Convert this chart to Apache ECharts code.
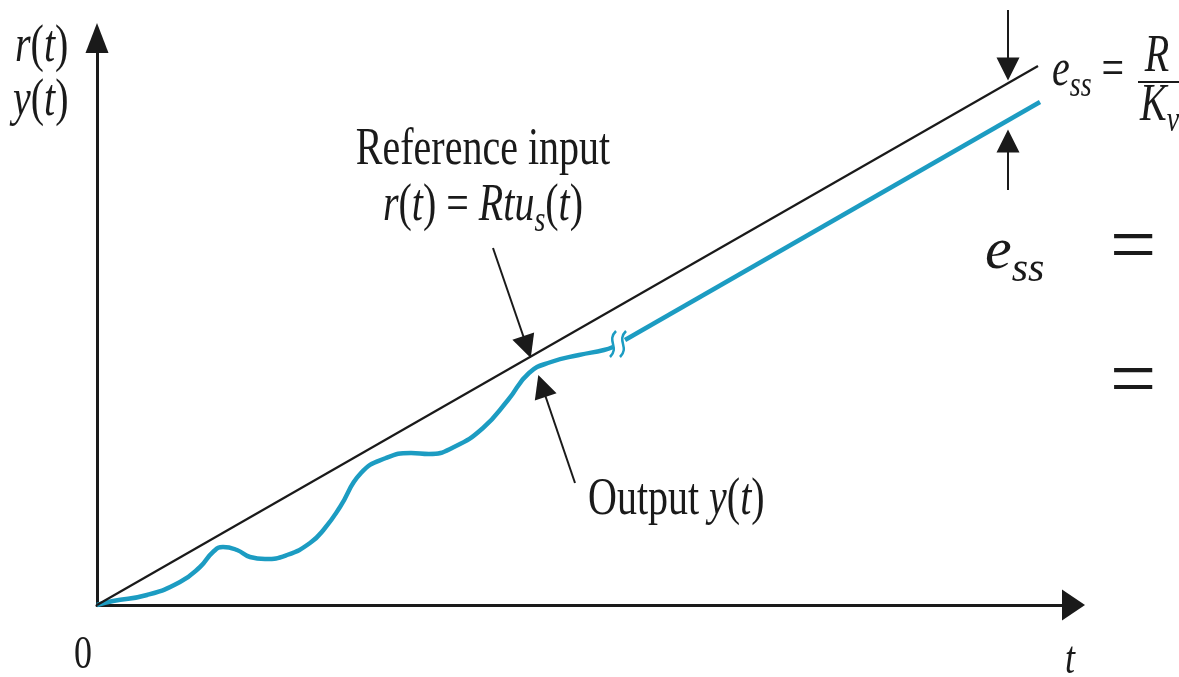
<!DOCTYPE html>
<html>
<head>
<meta charset="utf-8">
<title>Steady-state error to a ramp input</title>
<script src="https://cdn.jsdelivr.net/npm/echarts@6/dist/echarts.min.js"></script>
<style>
  html, body { margin: 0; padding: 0; background: #fff; }
  #chart { width: 1179px; height: 677px; }
</style>
</head>
<body>
<div id="chart"></div>
<script>
// reference input r(t) = R t (start and end of the drawn segment)
const refInput = [[0, 0], [941, 539]];
// output y(t), transient part up to the axis break
const outputTransient = [
  [0, 0], [16, 4], [50, 10], [83, 23], [103, 38], [116, 53], [126, 58],
  [140, 55], [153, 48], [168, 46], [190, 50], [213, 62], [228, 77],
  [243, 98], [264, 132], [289, 147], [314, 152], [332, 151], [357, 158],
  [386, 177], [411, 205], [432, 232], [454, 243], [482, 250], [507, 255],
  [516, 258]
];
// output y(t), steady-state part after the break
const outputSteady = [[528, 265], [943, 503]];
// where the break mark sits on the output curve
const breakPoint = [[521, 261]];
// pointer arrows: [from, to]
const pointerArrows = [
  [[911, 595], [911, 536]],   // e_ss, from above
  [[911, 415], [911, 464]],   // e_ss, from below
  [[396, 357], [430, 258]],   // reference input
  [[478, 122], [445, 219]]    // output y(t)
];

const serif = 'Liberation Serif';
const ink = '#1a1a1a';
const blue = '#1c9cc2';
const stretch = 1.3; // the scanned figure is stretched vertically

const myChart = echarts.init(document.getElementById('chart'));

const rich = (size) => {
  const sub = Math.round(size * 0.7);
  return {
    i: { fontStyle: 'italic', fontSize: size, fontFamily: serif, lineHeight: size },
    s: {
      fontStyle: 'italic',
      fontSize: sub,
      fontFamily: serif,
      lineHeight: Math.round(size * 0.35),
      padding: [Math.round(size * 0.6), 0, 0, 0] // push the subscript down
    }
  };
};

function label(x, y, text, size, align, scaleY) {
  return {
    type: 'text',
    x: x,
    y: y,
    scaleY: scaleY == null ? stretch : scaleY,
    silent: true,
    style: {
      text: text,
      fontSize: size,
      fontFamily: serif,
      fill: ink,
      lineHeight: size,
      textAlign: align || 'left',
      textVerticalAlign: 'middle',
      rich: rich(size)
    }
  };
}

const option = {
  animation: false,
  backgroundColor: '#fff',
  grid: { left: 97, right: 105.5, top: 38, bottom: 72 },
  xAxis: {
    type: 'value',
    min: 0,
    max: 976.5,
    axisLine: {
      show: true,
      symbol: ['none', 'triangle'],
      symbolSize: [31, 23],
      lineStyle: { color: ink, width: 3 }
    },
    axisTick: { show: false },
    axisLabel: { show: false },
    splitLine: { show: false }
  },
  yAxis: {
    type: 'value',
    min: 0,
    max: 567,
    axisLine: {
      show: true,
      symbol: ['none', 'triangle'],
      symbolSize: [23, 30],
      lineStyle: { color: ink, width: 3 }
    },
    axisTick: { show: false },
    axisLabel: { show: false },
    splitLine: { show: false }
  },
  series: [
    {
      name: 'r(t)',
      type: 'line',
      data: refInput,
      showSymbol: false,
      clip: false,
      lineStyle: { color: ink, width: 2.2 },
      z: 3
    },
    {
      name: 'y(t) transient',
      type: 'line',
      data: outputTransient,
      smooth: 0.5,
      showSymbol: false,
      clip: false,
      lineStyle: { color: blue, width: 4.5 },
      z: 2
    },
    {
      name: 'y(t) steady',
      type: 'line',
      data: outputSteady,
      showSymbol: false,
      clip: false,
      lineStyle: { color: blue, width: 4.5 },
      z: 2
    },
    {
      // break mark on the output curve
      type: 'custom',
      data: breakPoint,
      clip: false,
      silent: true,
      z: 4,
      renderItem: function (params, api) {
        const p = api.coord([api.value(0), api.value(1)]);
        const mark = (dx) => ({
          type: 'bezierCurve',
          shape: {
            x1: p[0] + dx + 3, y1: p[1] - 13,
            x2: p[0] + dx - 3, y2: p[1] + 13,
            cpx1: p[0] + dx - 7, cpy1: p[1] - 3,
            cpx2: p[0] + dx + 7, cpy2: p[1] + 3
          },
          style: { stroke: blue, lineWidth: 2.5, fill: null }
        });
        return { type: 'group', children: [mark(-5), mark(5)] };
      }
    },
    {
      type: 'lines',
      coordinateSystem: 'cartesian2d',
      clip: false,
      silent: true,
      symbol: ['none', 'triangle'],
      symbolSize: 23,
      lineStyle: { color: ink, width: 2, opacity: 1, curveness: 0 },
      itemStyle: { color: ink },
      data: pointerArrows.map((a) => ({ coords: a })),
      z: 5
    }
  ],
  graphic: [
    label(15, 47, '{i|r}({i|t})', 40),
    label(13, 101, '{i|y}({i|t})', 40),
    label(483, 150, 'Reference input', 40, 'center'),
    label(483, 206, '{i|r}({i|t}) = {i|Rtu}{s|s}({i|t})', 40, 'center'),
    label(588, 500, 'Output {i|y}({i|t})', 40),
    label(83, 656, '0', 36, 'center'),
    label(1070, 661, '{i|t}', 36, 'center'),
    // e_ss = R / K_v, top right
    label(1052, 71, '{i|e}{s|ss} =', 40),
    label(1157, 57, '{i|R}', 40, 'center'),
    {
      type: 'line',
      silent: true,
      shape: { x1: 1138, y1: 82, x2: 1190, y2: 82 },
      style: { stroke: ink, lineWidth: 2 }
    },
    label(1140, 106, '{i|K}{s|v}', 40),
    // large e_ss = / = on the right edge
    label(985, 252, '{i|e}{s|ss}', 60, 'left', 1),
    label(1133, 250, '=', 82, 'center', 1),
    label(1133, 384, '=', 82, 'center', 1)
  ]
};

myChart.setOption(option, true);

window.addEventListener('resize', () => {
  myChart.resize();
});
</script>
</body>
</html>
